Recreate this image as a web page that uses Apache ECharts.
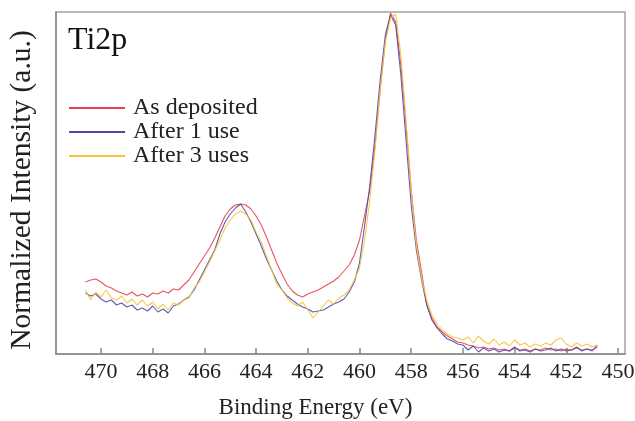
<!DOCTYPE html>
<html>
<head>
<meta charset="utf-8">
<script src="https://cdn.jsdelivr.net/npm/echarts@6/dist/echarts.min.js"></script>
<style>html,body{margin:0;padding:0;background:#fff;}#c{width:635px;height:421px;}</style>
</head>
<body>
<div id="c"></div>
<script>
// Binding energies (eV)
var energy = [470.6,470.4,470.2,470.0,469.8,469.6,469.4,469.2,469.0,468.8,
468.6,468.4,468.2,468.0,467.8,467.6,467.4,467.2,467.0,466.8,
466.6,466.4,466.2,466.0,465.8,465.6,465.4,465.2,465.0,464.8,
464.6,464.4,464.2,464.0,463.8,463.6,463.4,463.2,463.0,462.8,
462.6,462.4,462.2,462.0,461.8,461.6,461.4,461.2,461.0,460.8,
460.6,460.4,460.2,460.0,459.8,459.6,459.4,459.2,459.0,458.8,
458.6,458.4,458.2,458.0,457.8,457.6,457.4,457.2,457.0,456.8,
456.6,456.4,456.2,456.0,455.8,455.6,455.4,455.2,455.0,454.8,
454.6,454.4,454.2,454.0,453.8,453.6,453.4,453.2,453.0,452.8,
452.6,452.4,452.2,452.0,451.8,451.6,451.4,451.2,451.0,450.8];

// Normalized intensity (a.u.)
var asDeposited = [72,74,75,72,68,66,63,61,59,62,
58,60,57,61,60,63,61,65,64,69,
74,82,90,98,106,116,127,138,145,149,
150,149,145,138,129,117,104,91,80,70,
63,59,57,60,62,64,67,70,73,77,
83,89,99,114,139,164,209,264,314,341,
332,289,229,164,114,82,49,36,27,22,
18,15,12,11,9,8,6,7,5,6,
4,5,3,6,4,5,3,5,4,6,
4,5,3,5,4,6,4,5,4,7];

var after1Use = [61,58,60,55,52,54,49,51,47,49,
44,46,43,48,42,45,41,48,50,54,
57,64,74,84,94,104,120,132,140,146,
150,142,132,120,108,95,84,73,64,58,
54,50,47,45,42,43,44,47,50,52,
55,62,72,91,129,169,219,274,319,339,
329,279,214,149,104,74,49,34,26,20,
15,13,10,9,4,8,2,6,3,5,
2,4,3,7,3,4,2,5,3,4,
6,3,5,3,4,7,3,5,3,9];

var after3Uses = [64,54,62,57,64,56,54,58,51,55,
49,54,48,52,45,50,44,51,49,54,
56,66,72,82,92,103,114,126,134,140,
143,140,134,122,112,98,84,70,64,56,
51,48,52,44,36,42,48,54,50,56,
59,64,74,86,114,154,204,264,312,336,
340,299,234,164,109,76,54,39,30,24,
20,17,16,14,17,11,18,13,10,15,
9,12,8,14,9,11,7,10,8,11,
9,14,16,10,7,11,8,10,7,9];

var xTicks = [470,468,466,464,462,460,458,456,454,452,450];
var seriesNames = ['As deposited','After 1 use','After 3 uses'];
var seriesColors = ['#e8404f','#4b4bab','#f5c23a'];

function pairs(vals){ return energy.map(function(e,i){ return [e, vals[i]]; }); }
var allVals = [asDeposited, after1Use, after3Uses];

var font = '"Liberation Serif", "DejaVu Serif", serif';
var chart = echarts.init(document.getElementById('c'), null, {renderer:'canvas'});
chart.setOption({
  animation: false,
  backgroundColor: '#fff',
  textStyle: {fontFamily: font},
  grid: {left: 56, right: 10, top: 12, bottom: 67, show: true, borderColor: '#a3a3a3', borderWidth: 1.5,
         containLabel: false, outerBoundsMode: 'none'},
  title: {text: 'Ti2p', left: 68, top: 25, padding: 0, textStyle: {fontFamily: font, fontSize: 32, fontWeight: 'normal', color: '#111'}},
  legend: {
    orient: 'vertical', left: 69, top: 96, itemWidth: 56, itemHeight: 2, itemGap: 0, padding: 0,
    icon: 'rect',
    data: seriesNames,
    textStyle: {fontFamily: font, fontSize: 24, color: '#222', lineHeight: 23.5, padding: [0, 0, 0, 3]}
  },
  xAxis: {
    type: 'value', inverse: true, min: 449.73, max: 471.74,
    name: 'Binding Energy (eV)', nameLocation: 'middle', nameGap: 42,
    nameTextStyle: {fontFamily: font, fontSize: 23, color: '#222', padding: [0, 50, 0, 0]},
    axisLine: {show: true, lineStyle: {color: '#888', width: 1.5}},
    axisTick: {show: true, inside: true, length: 6, customValues: xTicks, lineStyle: {color: '#888', width: 1.5}},
    axisLabel: {customValues: xTicks, fontFamily: font, fontSize: 22, color: '#222', margin: 7},
    splitLine: {show: false}
  },
  yAxis: {
    type: 'value', min: 0, max: 342,
    name: 'Normalized Intensity (a.u.)', nameLocation: 'middle', nameGap: 19,
    nameTextStyle: {fontFamily: font, fontSize: 29.5, color: '#222', padding: [0, 14, 0, 0]},
    axisLine: {show: true, lineStyle: {color: '#888', width: 1.5}},
    axisTick: {show: false}, axisLabel: {show: false}, splitLine: {show: false}
  },
  series: seriesNames.map(function(n, i){
    return {
      name: n, type: 'line', data: pairs(allVals[i]), showSymbol: false, symbol: 'none',
      color: seriesColors[i],
      lineStyle: {width: 1.1, color: seriesColors[i], opacity: 0.9},
      clip: true, z: 2 + i
    };
  })
});
</script>
</body>
</html>
